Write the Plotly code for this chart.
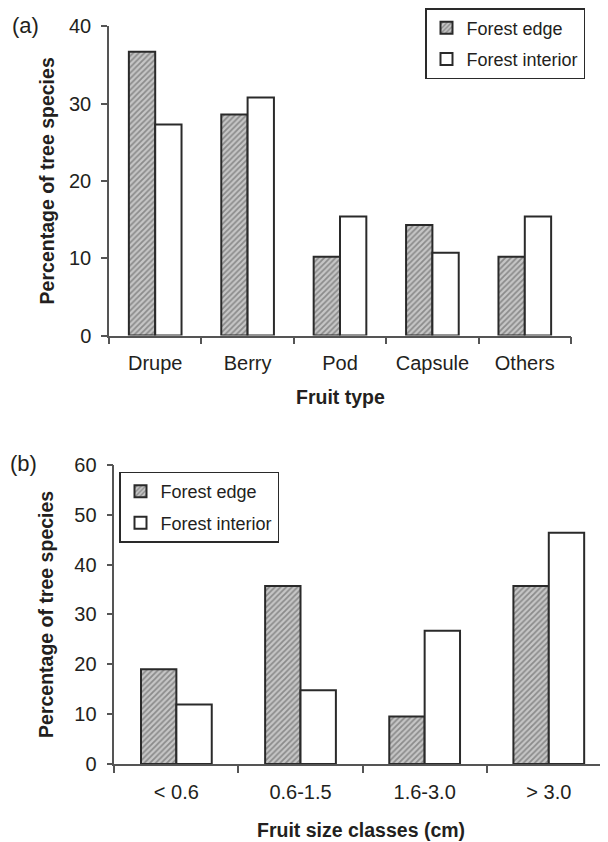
import plotly.graph_objects as go

# ---- data ----
fruit_types = ["Drupe", "Berry", "Pod", "Capsule", "Others"]
edge_a = [36.7, 28.6, 10.2, 14.3, 10.2]
interior_a = [27.3, 30.8, 15.4, 10.7, 15.4]

size_classes = ["< 0.6", "0.6-1.5", "1.6-3.0", "> 3.0"]
edge_b = [19.0, 35.7, 9.5, 35.7]
interior_b = [11.9, 14.8, 26.7, 46.4]

series_names = ["Forest edge", "Forest interior"]

# the page body has an 8px margin, so the figure is a bit smaller than the window
W, H = 600, 834
OFF = 8
FONT = "Liberation Sans, Arial, Helvetica, sans-serif"
TXT = "#231f20"
AX = "#555555"
OUT = "#2a2a2a"


def px(x):
    return (x - OFF) / W


def py(y):
    return 1 - (y - OFF) / H


edge_marker = dict(
    color="#c6c6c6",
    line=dict(color=OUT, width=2),
    pattern=dict(shape="/", fgcolor="#505050", size=4, solidity=0.45, fillmode="overlay"),
)
interior_marker = dict(color="white", line=dict(color=OUT, width=2))

fig = go.Figure()
fig.add_bar(x=fruit_types, y=edge_a, name=series_names[0], marker=edge_marker,
            xaxis="x", yaxis="y", legend="legend", legendgroup="a1")
fig.add_bar(x=fruit_types, y=interior_a, name=series_names[1], marker=interior_marker,
            xaxis="x", yaxis="y", legend="legend", legendgroup="a2")
fig.add_bar(x=size_classes, y=edge_b, name=series_names[0], marker=edge_marker,
            xaxis="x2", yaxis="y2", legend="legend2", legendgroup="b1")
fig.add_bar(x=size_classes, y=interior_b, name=series_names[1], marker=interior_marker,
            xaxis="x2", yaxis="y2", legend="legend2", legendgroup="b2")

xcommon = dict(type="category", tickson="boundaries", ticks="outside", ticklen=7,
               tickcolor=AX, tickwidth=1.5, showline=True, linecolor=AX, linewidth=1.5,
               showgrid=False, zeroline=False, tickfont=dict(size=20, color=TXT, family=FONT),
               ticklabelstandoff=9, automargin=False, fixedrange=True)
ycommon = dict(ticks="outside", ticklen=6, tickcolor=AX, tickwidth=1.5, showline=True,
               linecolor=AX, linewidth=1.5, showgrid=False, zeroline=False, dtick=10,
               tickfont=dict(size=20, color=TXT, family=FONT), ticklabelstandoff=6,
               automargin=False, fixedrange=True)

legcommon = dict(xanchor="left", yanchor="top", bgcolor="white", bordercolor=OUT,
                 borderwidth=1.5, font=dict(size=18, color=TXT, family=FONT),
                 traceorder="grouped", tracegroupgap=5)

fig.update_layout(
    width=W, height=H,
    margin=dict(l=0, r=0, t=0, b=0),
    paper_bgcolor="white", plot_bgcolor="white",
    font=dict(family=FONT, color=TXT, size=18),
    barmode="group", bargap=0.43, bargroupgap=0,
    xaxis=dict(xcommon, domain=[px(109), px(571)], anchor="y", range=[-0.5, 4.5]),
    yaxis=dict(ycommon, domain=[py(334.3), py(24.3)], anchor="x", range=[0, 40]),
    xaxis2=dict(xcommon, domain=[px(114.3), 1.0], anchor="y2", range=[-0.5, 3.477]),
    yaxis2=dict(ycommon, domain=[py(763.7), py(464)], anchor="x2", range=[0, 60]),
    legend=dict(legcommon, x=px(425), y=py(6)),
    legend2=dict(legcommon, x=px(119), y=py(470.7)),
    showlegend=True,
)

ann = [
    dict(text="(a)", x=px(10), y=py(24), xanchor="left", yanchor="middle",
         font=dict(size=22, color=TXT, family=FONT)),
    dict(text="(b)", x=px(8), y=py(463), xanchor="left", yanchor="middle",
         font=dict(size=22, color=TXT, family=FONT)),
    dict(text="Percentage of tree species", x=px(46.5), y=py(179.3), textangle=-90,
         xanchor="center", yanchor="middle",
         font=dict(size=19.5, color=TXT, family=FONT, weight="bold")),
    dict(text="Percentage of tree species", x=px(46.5), y=py(613.9), textangle=-90,
         xanchor="center", yanchor="middle",
         font=dict(size=19.5, color=TXT, family=FONT, weight="bold")),
    dict(text="Fruit type", x=px(340), y=py(396), xanchor="center", yanchor="middle",
         font=dict(size=19.5, color=TXT, family=FONT, weight="bold")),
    dict(text="Fruit size classes (cm)", x=px(361), y=py(830), xanchor="center",
         yanchor="middle", font=dict(size=19.5, color=TXT, family=FONT, weight="bold")),
]
for a in ann:
    a.update(xref="paper", yref="paper", showarrow=False)
fig.update_layout(annotations=ann)

fig.write_html("out.html")
